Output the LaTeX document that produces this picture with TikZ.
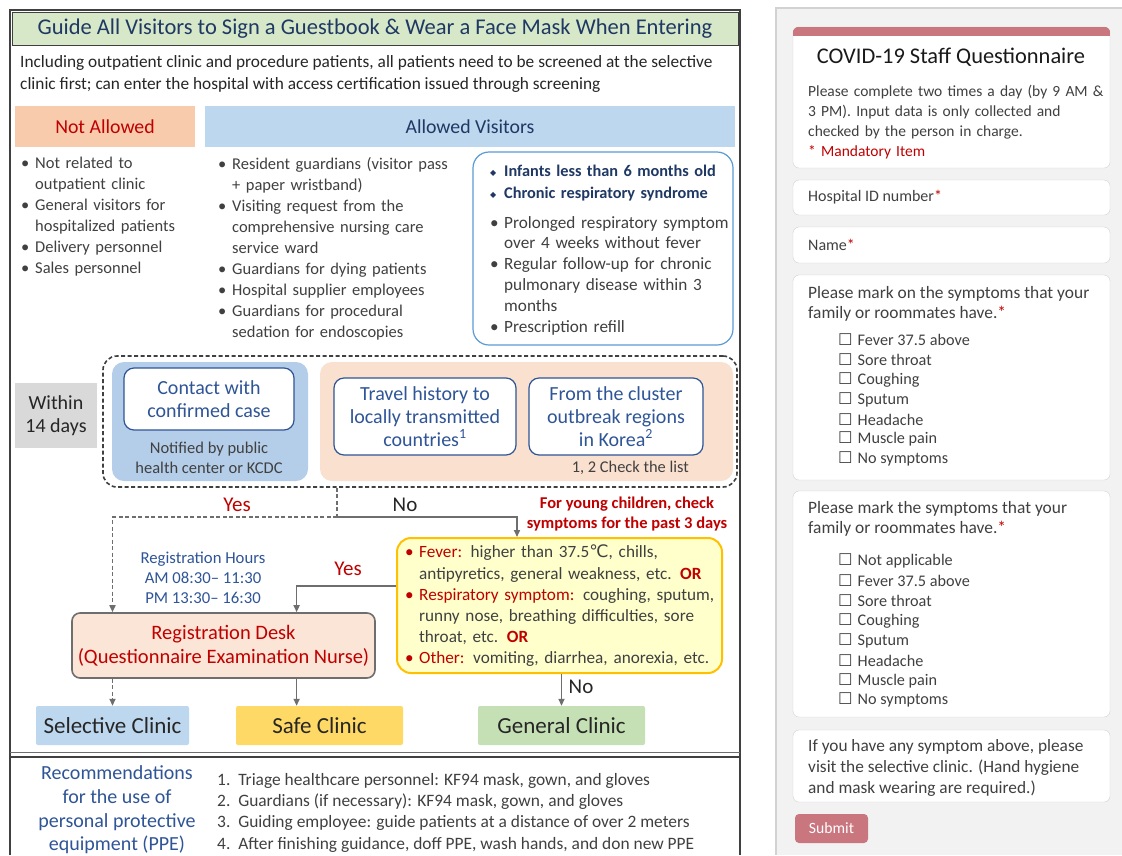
\documentclass[tikz,border=0pt]{standalone}
\usepackage{fontspec}
\setmainfont{Carlito}
\newfontfamily\symfont{DejaVu Sans}
\usetikzlibrary{arrows.meta, calc, positioning}
\definecolor{mygreen1}{RGB}{214, 232, 199}
\definecolor{mygreen2}{RGB}{197, 224, 180}
\definecolor{mynavy1}{RGB}{31, 56, 100}
\definecolor{myblue1}{RGB}{189, 215, 238}
\definecolor{myblue2}{RGB}{47, 85, 151}
\definecolor{myblue3}{RGB}{91, 155, 213}
\definecolor{myblue4}{RGB}{180, 205, 232}
\definecolor{myred1}{RGB}{192, 0, 0}
\definecolor{myorange1}{RGB}{248, 203, 173}
\definecolor{myorange2}{RGB}{250, 224, 207}
\definecolor{mypink1}{RGB}{251, 229, 214}
\definecolor{myyellow1}{RGB}{255, 255, 204}
\definecolor{myyellow2}{RGB}{255, 192, 0}
\definecolor{myyellow3}{RGB}{255, 217, 102}
\definecolor{mygray1}{RGB}{64, 64, 64}
\definecolor{mygray2}{RGB}{110, 110, 110}
\definecolor{mygray3}{RGB}{217, 217, 217}
\definecolor{mygray4}{RGB}{242, 242, 242}
\definecolor{mygray5}{RGB}{210, 210, 210}
\definecolor{myrose1}{RGB}{201, 118, 127}
\setlength{\parindent}{0pt}
\newcommand{\setfs}[2]{\fontsize{#1}{#2}\selectfont}
\newcommand{\bul}[2][.]{\hangindent=14pt\hangafter=1\noindent\makebox[14pt][l]{\textcolor{#1}{•}}#2\par}
\newcommand{\dia}{\makebox[14pt][l]{\raisebox{1.5pt}{\symfont\setfs{8}{8}◆}}}
\newcommand{\cbx}{{\symfont ☐}\hspace{5pt}}
\newcommand{\req}{\textcolor{myred1}{*}}

\begin{document}
\begin{tikzpicture}[x=1pt, y=-1pt, >={Triangle[length=7pt, width=6pt]},
  list/.style={anchor=north west, inner sep=0pt, align=left, text=mygray1, font=\setfs{16.5}{21}},
  hdr/.style={minimum height=41pt, inner sep=0pt, font=\setfs{19.8}{22}},
  wbox/.style={draw=myblue2, line width=1.2pt, fill=white, rounded corners=10pt, align=center, text=myblue2, font=\setfs{20}{23}, inner sep=0pt},
  grp/.style={rounded corners=12pt, inner sep=0pt},
  clinic/.style={minimum width=153pt, minimum height=39pt, inner sep=0pt, rounded corners=2pt, font=\setfs{23}{25}, text=black!85},
  lbl/.style={inner sep=0pt, font=\setfs{21}{22}},
  conn/.style={draw=mygray2, line width=1.6pt},
  arr/.style={conn, ->},
  dsh/.style={dash pattern=on 4pt off 2.5pt},
  card/.style={draw=mygray5, fill=white, rounded corners=6pt, minimum width=317pt, inner sep=0pt},
  form/.style={anchor=north west, inner sep=0pt, align=left, text=mygray1, font=\setfs{17.4}{20.5}},
  chk/.style={anchor=west, inner sep=0pt, text=mygray1, font=\setfs{16.2}{20}}]
\useasboundingbox (0,0) rectangle (1122,855);
\fill[white] (0,0) rectangle (1122,855);

% Poster frame
\draw[mygray1, line width=1.5pt] (10,855) -- (10,10) -- (740,10) -- (740,855);
\node[draw=mygray1, fill=mygreen1, minimum width=726pt, minimum height=33pt, inner sep=0pt, text=mynavy1, font=\setfs{22.5}{24}] (title) at (375,28.5)
  {Guide All Visitors to Sign a Guestbook \& Wear a Face Mask When Entering};
\node[anchor=north west, inner sep=0pt, align=left, text=black!85, font=\setfs{17.3}{22}] (intro) at (20,55)
  {Including outpatient clinic and procedure patients, all patients need to be screened at the selective\\clinic first; can enter the hospital with access certification issued through screening};

% Visitors
\node[hdr, fill=myorange1, minimum width=180pt, text=myred1] (notallowed) at (105,126.5) {Not Allowed};
\node[hdr, fill=myblue1, minimum width=530pt, text=mynavy1] (allowed) at (470,126.5) {Allowed Visitors};
\node[list, text width=180pt] (notlist) at (21,157) {%
  \bul{Not related to\newline outpatient clinic}
  \bul{General visitors for\newline hospitalized patients}
  \bul{Delivery personnel}
  \bul{Sales personnel}};
\node[list, text width=260pt] (allowlist) at (218,157) {%
  \bul{Resident guardians (visitor pass\newline + paper wristband)}
  \bul{Visiting request from the\newline comprehensive nursing care\newline service ward}
  \bul{Guardians for dying patients}
  \bul{Hospital supplier employees}
  \bul{Guardians for procedural\newline sedation for endoscopies}};
\node[draw=myblue3, line width=1.2pt, rounded corners=16pt, fill=white, minimum width=260pt, minimum height=193pt] (special) at (603,248.5) {};
\node[list, text width=250pt, text=mynavy1, font=\bfseries\setfs{16.3}{22}] (speciallist) at (490,165) {%
  \dia Infants less than 6 months old\\\dia Chronic respiratory syndrome};
\node[list, text width=260pt, font=\setfs{17.2}{20.8}] (speciallist2) at (490,216) {%
  \bul{Prolonged respiratory symptom\newline over 4 weeks without fever}
  \bul{Regular follow-up for chronic\newline pulmonary disease within 3\newline months}
  \bul{Prescription refill}};

% Screening window
\node[draw=mygray1, line width=1.6pt, dsh, rounded corners=14pt, minimum width=634pt, minimum height=131pt, inner sep=0pt] (window) at (420,421.5) {};
\node[grp, fill=myblue4, minimum width=196pt, minimum height=119pt] (contactgrp) at (210,421.5) {};
\node[grp, fill=myorange2, minimum width=413pt, minimum height=119pt] (travelgrp) at (526.5,421.5) {};
\node[wbox, minimum width=170pt, minimum height=62pt] (contact) at (209,399) {Contact with\\confirmed case};
\node[inner sep=0pt, align=center, text=mygray1, font=\setfs{16.5}{20}] (notified) at (209,458) {Notified by public\\health center or KCDC};
\node[wbox, minimum width=182pt, minimum height=77pt] (travel) at (425,416.5) {Travel history to\\locally transmitted\\countries\textsuperscript{1}};
\node[wbox, minimum width=174pt, minimum height=77pt] (cluster) at (616,416.5) {From the cluster\\outbreak regions\\in Korea\textsuperscript{2}};
\node[anchor=east, inner sep=0pt, text=mygray1, font=\setfs{16.4}{18}] (checklist) at (689,468) {1, 2 Check the list};
\node[fill=mygray3, minimum width=82pt, minimum height=65pt, inner sep=0pt, align=center, text=black!85, font=\setfs{20}{23}] (within) at (56,415.5) {Within\\14 days};

% Triage
\node[lbl, text=myred1] (yes1) at (237,505) {Yes};
\node[lbl, text=black!85] (no1) at (405,505) {No};
\node[inner sep=0pt, align=center, text=myred1, font=\bfseries\setfs{16.5}{19.5}] (young) at (627,514) {For young children, check\\symptoms for the past 3 days};
\node[inner sep=0pt, align=center, text=myblue2, font=\setfs{16.7}{20}] (hours) at (203,578) {Registration Hours\\AM 08:30-- 11:30\\PM 13:30-- 16:30};
\node[lbl, text=myred1] (yes2) at (348,569) {Yes};
\node[lbl, text=black!85] (no2) at (581,687) {No};
\node[draw=myyellow2, line width=2pt, fill=myyellow1, rounded corners=14pt, minimum width=325pt, minimum height=135pt] (symptoms) at (559.5,605.5) {};
\node[list, text width=330pt, font=\setfs{17.2}{21.2}] (symptomlist) at (405,545) {%
  \bul[myred1]{\textcolor{myred1}{Fever:} higher than 37.5{\symfont ℃}, chills,\newline antipyretics, general weakness, etc. \textcolor{myred1}{\bfseries OR}}
  \bul[myred1]{\textcolor{myred1}{Respiratory symptom:} coughing, sputum,\newline runny nose, breathing difficulties, sore\newline throat, etc. \textcolor{myred1}{\bfseries OR}}
  \bul[myred1]{\textcolor{myred1}{Other:} vomiting, diarrhea, anorexia, etc.}};
\node[draw=mygray2, line width=1.6pt, fill=mypink1, rounded corners=8pt, minimum width=303pt, minimum height=65pt, inner sep=0pt,
  align=center, text=myred1, font=\setfs{20.5}{24}] (desk) at (223.5,645.5) {Registration Desk\\(Questionnaire Examination Nurse)};
\node[clinic, fill=myblue1] (selective) at (112.5,725.5) {Selective Clinic};
\node[clinic, fill=myyellow3, minimum width=167pt] (safe) at (319.5,725.5) {Safe Clinic};
\node[clinic, fill=mygreen2, minimum width=167pt] (general) at (561.5,725.5) {General Clinic};

% Connectors
\coordinate (split) at (337,517);
\coordinate (deskin) at ($(desk.north west)!0.74!(desk.north east)$);
\coordinate (deskout) at ($(desk.south west)!0.74!(desk.south east)$);
\coordinate (sympin) at ($(symptoms.north west)!0.37!(symptoms.north east)$);
\draw[conn, dsh] (split |- window.south) -- (split);
\draw[arr, dsh] (split) -| (desk.north -| selective.north);
\draw[arr] (split) -| (sympin);
\draw[arr] ([yshift=19.5pt]symptoms.west) -| (deskin);
\draw[arr, dsh] (desk.south -| selective.north) -- (selective.north);
\draw[arr] (deskout) -- (deskout |- safe.north);
\draw[arr] (symptoms.south -| general.north) -- (general.north);

% PPE
\draw[mygray2, line width=1pt] (10,752) -- (740,752);
\draw[mygray1, line width=1.5pt] (10,757) -- (740,757);
\node[inner sep=0pt, align=center, text=myblue2, font=\setfs{20}{23.7}] (ppe) at (117,810) {Recommendations\\for the use of\\personal protective\\equipment (PPE)};
\node[anchor=north west, inner sep=0pt, align=left, text=mygray1, font=\setfs{17.4}{21.3}] (ppelist) at (217,773) {%
  1.\ \ Triage healthcare personnel: KF94 mask, gown, and gloves\\
  2.\ \ Guardians (if necessary): KF94 mask, gown, and gloves\\
  3.\ \ Guiding employee: guide patients at a distance of over 2 meters\\
  4.\ \ After finishing guidance, doff PPE, wash hands, and don new PPE};

% Questionnaire
\fill[mygray4] (776,8) rectangle (1122,855);
\draw[mygray5, line width=1.2pt] (776,855) -- (776,8) -- (1122,8);
\node[card, minimum height=141pt] (card1) at (951.5,97.5) {};
\begin{scope}
  \clip[rounded corners=6pt] (card1.north west) rectangle (card1.south east);
  \fill[myrose1] (card1.north west) rectangle ([yshift=-9pt]card1.north east);
\end{scope}
\node[inner sep=0pt, text=black!90, font=\setfs{22.4}{24}] (formtitle) at (951,57) {COVID-19 Staff Questionnaire};
\node[form, text width=300pt, font=\setfs{15.5}{20}] (formintro) at (808,84.5) {Please complete two times a day (by 9 AM \&\\3 PM). Input data is only collected and\\checked by the person in charge.\\\textcolor{myred1}{* Mandatory Item}};
\node[card, minimum height=35pt] (card2) at (951.5,197.5) {};
\node[chk, font=\setfs{16}{20}] (hospid) at (808,197.5) {Hospital ID number\req};
\node[card, minimum height=36pt] (card3) at (951.5,245) {};
\node[chk, font=\setfs{16}{20}] (name) at (808,245) {Name\req};
\node[card, minimum height=205pt] (card4) at (951.5,377.5) {};
\node[form] (qone) at (808,286) {Please mark on the symptoms that your\\family or roommates have.\req};
\foreach \sym [count=\i from 0] in {Fever 37.5 above, Sore throat, Coughing, Sputum, Headache, Muscle pain, No symptoms}
  \node[chk] (qa\i) at (838, 340+19.85*\i) {\cbx\sym};
\node[card, minimum height=226pt] (card5) at (951.5,604) {};
\node[form] (qtwo) at (808,501) {Please mark the symptoms that your\\family or roommates have.\req};
\foreach \sym [count=\i from 0] in {Not applicable, Fever 37.5 above, Sore throat, Coughing, Sputum, Headache, Muscle pain, No symptoms}
  \node[chk] (qb\i) at (838, 561+19.9*\i) {\cbx\sym};
\node[card, minimum height=72pt] (card6) at (951.5,766) {};
\node[form, font=\setfs{17.3}{21}] (formnote) at (808,739) {If you have any symptom above, please\\visit the selective clinic. (Hand hygiene\\and mask wearing are required.)};
\node[fill=myrose1, rounded corners=4pt, minimum width=73pt, minimum height=29pt, inner sep=0pt, text=white, font=\setfs{15.7}{17}] (submit) at (831.5,828.5) {Submit};
\end{tikzpicture}
\end{document}
